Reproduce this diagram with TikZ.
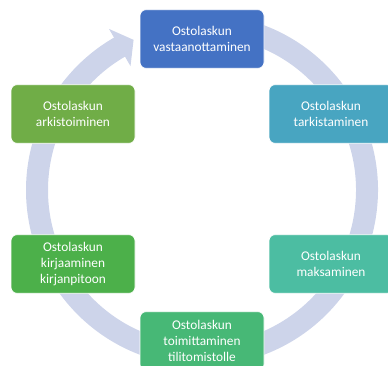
\documentclass[tikz,border=0pt]{standalone}
\usepackage{fontspec}
\setmainfont{Carlito}
\usetikzlibrary{calc}
\definecolor{rengas}{RGB}{205,212,234}
\definecolor{sininen}{RGB}{68,114,196}
\definecolor{turkoosi}{RGB}{72,165,193}
\definecolor{minttu}{RGB}{76,189,162}
\definecolor{vihrea}{RGB}{71,184,118}
\definecolor{ruoho}{RGB}{76,176,74}
\definecolor{oliivi}{RGB}{112,173,71}
\begin{document}
\begin{tikzpicture}[x=0.75pt,y=0.75pt,font=\fontsize{10}{12}\selectfont,
  vaihe/.style={draw=white,line width=0.6pt,rounded corners=4.5pt,
    minimum width=93pt,minimum height=44pt,text=white,align=center,inner sep=2pt}]
  \useasboundingbox (0,0) rectangle (388,365);
  \coordinate (k) at (202,175);

  % rengas
  \draw[rengas,line width=16.5pt] ($(k)+(85:165)$) arc[start angle=85,end angle=-240.5,radius=165];
  \fill[rengas] ($(k)+(120:143)$) -- ($(k)+(114.5:165)$) -- ($(k)+(120:186)$) -- cycle;

  % vaiheet
  \node[vaihe,fill=sininen] (vastaanotto) at (202,326) {Ostolaskun\\vastaanottaminen};
  \node[vaihe,fill=turkoosi] (tarkistus) at (331,251) {Ostolaskun\\tarkistaminen};
  \node[vaihe,fill=minttu] (maksu) at (331,101) {Ostolaskun\\maksaminen};
  \node[vaihe,fill=vihrea] (toimitus) at (202,24) {Ostolaskun\\toimittaminen\\tilitomistolle};
  \node[vaihe,fill=ruoho] (kirjaus) at (73,101) {Ostolaskun\\kirjaaminen\\kirjanpitoon};
  \node[vaihe,fill=oliivi] (arkistointi) at (73,251) {Ostolaskun\\arkistoiminen};
\end{tikzpicture}
\end{document}
